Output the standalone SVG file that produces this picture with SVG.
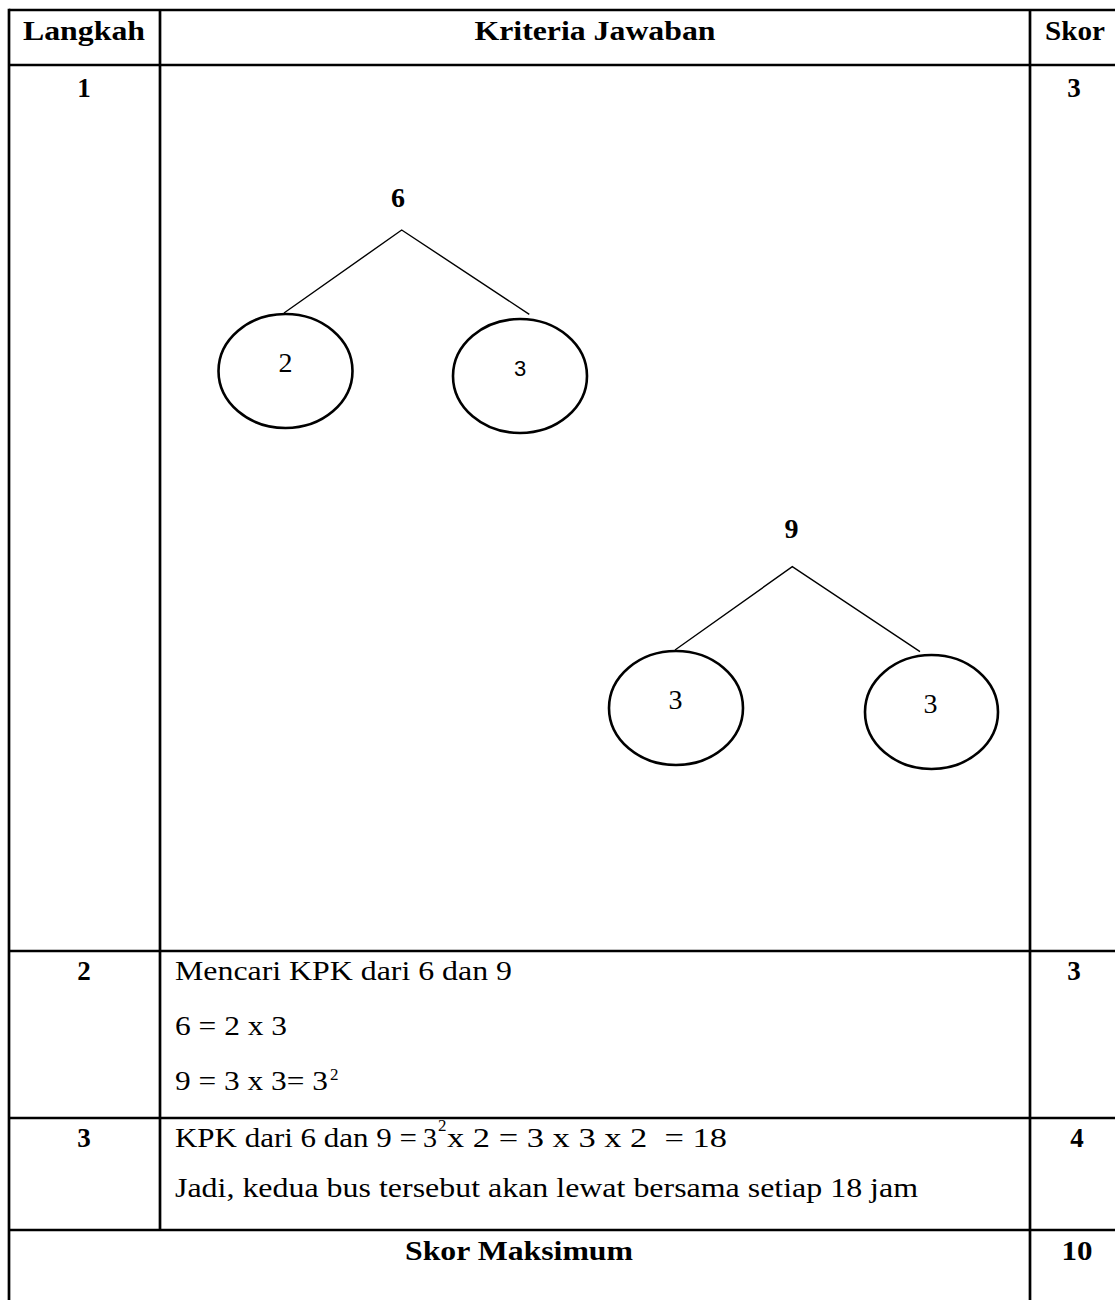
<svg xmlns="http://www.w3.org/2000/svg" width="1115" height="1300" viewBox="0 0 1115 1300" font-family="Liberation Serif, serif">
<style>
.grid{stroke:#000;stroke-width:2.7;fill:none}
.t{font-size:27px;fill:#000}
.b{font-weight:bold}
.m{text-anchor:middle}
.sup{font-size:17px;fill:#000}
.node{fill:none;stroke:#000;stroke-width:2.6}
.edge{stroke:#000;stroke-width:1.4;fill:none}
.lbl{font-size:28px;fill:#000;text-anchor:middle}
.lbls{font-size:22px;fill:#000;text-anchor:middle}
</style>
<rect width="1115" height="1300" fill="#fff"/>
<g id="table">
<line class="grid" x1="9" y1="10" x2="1115" y2="10"/>
<line class="grid" x1="9" y1="65" x2="1115" y2="65"/>
<line class="grid" x1="9" y1="951" x2="1115" y2="951"/>
<line class="grid" x1="9" y1="1118" x2="1115" y2="1118"/>
<line class="grid" x1="9" y1="1230" x2="1115" y2="1230"/>
<line class="grid" x1="9" y1="8.7" x2="9" y2="1300"/>
<line class="grid" x1="160" y1="10" x2="160" y2="1230"/>
<line class="grid" x1="1030" y1="10" x2="1030" y2="1300"/>
</g>
<g id="header">
<text class="t b m" x="84" y="40" textLength="122" lengthAdjust="spacingAndGlyphs">Langkah</text>
<text class="t b m" x="595" y="40" textLength="241" lengthAdjust="spacingAndGlyphs">Kriteria Jawaban</text>
<text class="t b m" x="1075" y="40" textLength="60" lengthAdjust="spacingAndGlyphs">Skor</text>
</g>
<g id="row1">
<text class="t b m" x="84" y="97">1</text>
<text class="t b m" x="1074" y="97">3</text>
</g>
<g id="row2">
<text class="t b m" x="84" y="980">2</text>
<text class="t b m" x="1074" y="980">3</text>
<text class="t" x="175" y="980" textLength="337" lengthAdjust="spacingAndGlyphs">Mencari KPK dari 6 dan 9</text>
<text class="t" x="175" y="1035" textLength="112" lengthAdjust="spacingAndGlyphs">6 = 2 x 3</text>
<text class="t" x="175" y="1090" textLength="153" lengthAdjust="spacingAndGlyphs">9 = 3 x 3= 3</text>
<text class="sup" x="330" y="1080">2</text>
</g>
<g id="row3">
<text class="t b m" x="84" y="1147">3</text>
<text class="t b m" x="1077" y="1147">4</text>
<text class="t" x="175" y="1147" textLength="242" lengthAdjust="spacingAndGlyphs">KPK dari 6 dan 9 =</text>
<text class="t" x="423" y="1147" textLength="14" lengthAdjust="spacingAndGlyphs">3</text>
<text class="sup" x="438" y="1131">2</text>
<text class="t" x="447" y="1147" textLength="280" lengthAdjust="spacingAndGlyphs">x 2 = 3 x 3 x 2 &#160;= 18</text>
<text class="t" x="175" y="1197" textLength="743" lengthAdjust="spacingAndGlyphs">Jadi, kedua bus tersebut akan lewat bersama setiap 18 jam</text>
</g>
<g id="footer">
<text class="t b m" x="519" y="1260" textLength="228" lengthAdjust="spacingAndGlyphs">Skor Maksimum</text>
<text class="t b m" x="1077" y="1260" textLength="31" lengthAdjust="spacingAndGlyphs">10</text>
</g>
<g id="connectors">
<polyline class="edge" points="284,313 401.7,230 529.3,314.3"/>
<polyline class="edge" points="675,650 792.3,566.7 920,651.7"/>
</g>
<g id="node-6">
<text class="lbl b" x="398" y="207">6</text>
</g>
<g id="node-2">
<ellipse class="node" cx="285.5" cy="371" rx="67" ry="57"/>
<text class="lbl" x="285.5" y="372">2</text>
</g>
<g id="node-3a" font-family="Liberation Sans, sans-serif">
<ellipse class="node" cx="520" cy="376" rx="67" ry="57"/>
<text class="lbls" x="520" y="376">3</text>
</g>
<g id="node-9">
<text class="lbl b" x="791.5" y="538">9</text>
</g>
<g id="node-3b">
<ellipse class="node" cx="676" cy="708" rx="67" ry="57"/>
<text class="lbl" x="675.5" y="709">3</text>
</g>
<g id="node-3c">
<ellipse class="node" cx="931.5" cy="712" rx="66.5" ry="57"/>
<text class="lbl" x="930.5" y="713">3</text>
</g>
</svg>
